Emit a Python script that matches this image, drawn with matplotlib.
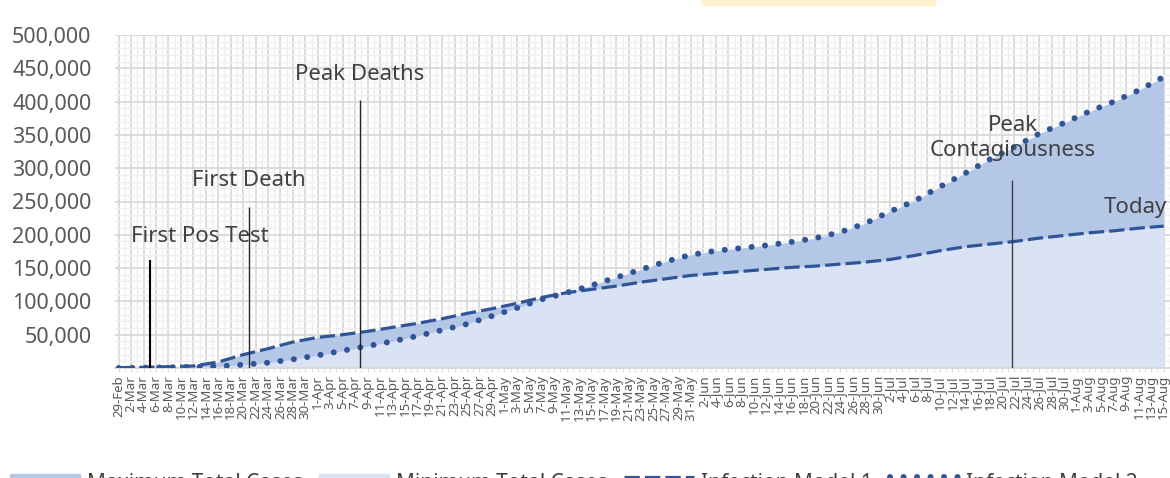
import matplotlib
matplotlib.use("Agg")
import matplotlib.pyplot as plt
import matplotlib.patches as mpatches
from matplotlib.lines import Line2D
from matplotlib.legend_handler import HandlerLine2D
from matplotlib.ticker import MultipleLocator, FuncFormatter
import numpy as np
import pandas as pd

# --- data (days counted from 29-Feb-2020) ---
start_date = "2020-02-29"
sample_days = [0, 4, 8, 12, 16, 20, 24, 28, 32, 36, 40, 44, 48, 52, 56, 60, 64, 68,
               72, 76, 80, 84, 88, 92, 96, 100, 104, 108, 112, 116, 120, 124, 128,
               132, 136, 140, 144, 148, 152, 156, 160, 164, 168]
model_1 = [500, 1000, 2000, 3000, 9000, 20000, 29000, 39000, 46000, 50000, 55000,
           61000, 67000, 74000, 82000, 89000, 97000, 106000, 113000, 118000, 123000,
           129000, 134000, 139000, 142000, 145000, 148000, 151000, 153000, 156000,
           159000, 163000, 169000, 176000, 182000, 186000, 190000, 195000, 199000,
           203000, 206000, 210000, 213000]
model_2 = [0, 500, 1000, 1500, 2500, 5000, 8000, 13000, 19000, 26000, 33000, 40000,
           48000, 57000, 66000, 78000, 90000, 103000, 113000, 124000, 136000, 148000,
           160000, 170000, 176000, 180000, 184000, 189000, 195000, 204000, 217000,
           235000, 251000, 272000, 292000, 313000, 332000, 352000, 368000, 385000,
           400000, 417000, 437000]

event_labels = ["First Pos Test", "First Death", "Peak Deaths", "Peak\nContagiousness"]
event_days = [5.1, 21.0, 38.8, 143.6]
event_tops = [162000, 242000, 402000, 282000]

n_days = 170
series_names = ["Maximum Total Cases", "Minimum Total Cases",
                "Infection Model 1", "Infection Model 2"]

# --- layout ---
W, H = 1170, 478
x_left_px, x_right_px = 115, 1176
y_top_px, y_bot_px = 35, 368
xmin = -0.6
xmax = xmin + (x_right_px - x_left_px) / 6.22

c_max = "#b4c7e7"
c_min = "#dae3f3"
c_line = "#2f5597"
c_text = "#595959"
c_grid = "#d9d9d9"

plt.rcParams["font.family"] = ["Noto Sans", "DejaVu Sans"]


class RaisedLine(HandlerLine2D):
    # legend line sits a little higher than the text centre (it is cut off otherwise)
    def create_artists(self, legend, orig_handle, xdescent, ydescent, width, height,
                       fontsize, trans):
        arts = super().create_artists(legend, orig_handle, xdescent, ydescent,
                                      width, height, fontsize, trans)
        for a in arts:
            a.set_ydata(np.asarray(a.get_ydata()) + 3.3)
        return arts


fig = plt.figure(figsize=(W / 100, H / 100), dpi=100)
ax = fig.add_axes([x_left_px / W, 1 - y_bot_px / H,
                   (x_right_px - x_left_px) / W, (y_bot_px - y_top_px) / H])

d = np.array(sample_days)
m1 = np.array(model_1)
m2 = np.array(model_2)
upper = np.maximum(m1, m2)
lower = np.minimum(m1, m2)

ax.fill_between(d, 0, upper, color=c_max, lw=0, zorder=2)
ax.fill_between(d, 0, lower, color=c_min, lw=0, zorder=2)
ax.plot(d, m1, color=c_line, lw=2.3, dashes=(4.8, 1.6), dash_capstyle="butt", zorder=4)
ax.plot(d, m2, color=c_line, lw=4.3, dashes=(0.01, 2.25), dash_capstyle="round", zorder=4)

# event markers
line_w = [1.5, 1.0, 1.0, 1.0]
line_c = ["#000000", "#262626", "#262626", "#404040"]
text_pos = [(200, 236), (249, 181), (360, 74), (1013, 138)]
for lab, ev, top, lw, lc, (tx, ty) in zip(event_labels, event_days, event_tops,
                                          line_w, line_c, text_pos):
    ax.vlines(ev, 0, top, color=lc, lw=lw, zorder=5)
    fig.text(tx / W, 1 - ty / H, lab, ha="center", va="center", fontsize=16,
             color="#404040", linespacing=1.3)
fig.text(1135 / W, 1 - 208 / H, "Today", ha="center", va="center", fontsize=16,
         color="#404040")

# axes styling
ax.set_xlim(xmin, xmax)
ax.set_ylim(0, 500000)
ax.yaxis.set_major_locator(MultipleLocator(50000))
ax.yaxis.set_minor_locator(MultipleLocator(10000))
ax.yaxis.set_major_formatter(FuncFormatter(lambda v, p: "" if v == 0 else f"{int(v):,}"))

dates = pd.date_range(start_date, periods=n_days, freq="D")
tick_days = list(range(0, n_days, 2))
tick_labels = [f"{dates[i].day}-{dates[i].strftime('%b')}" for i in tick_days]
ax.set_xticks(tick_days)
ax.set_xticklabels(tick_labels, rotation=90, fontsize=9.5, color=c_text)
ax.xaxis.set_minor_locator(MultipleLocator(1))

ax.grid(True, which="major", color=c_grid, lw=1.3, zorder=0)
ax.grid(True, which="minor", color="#efefef", lw=1.0, zorder=0)
ax.set_axisbelow(True)
ax.tick_params(axis="y", length=0, labelsize=15.5, labelcolor=c_text, pad=17)
ax.tick_params(axis="x", which="major", length=3, color=c_grid, pad=2)
ax.tick_params(axis="x", which="minor", length=3, color=c_grid)
ax.tick_params(axis="y", which="minor", length=0)
for s in ["top", "right", "left"]:
    ax.spines[s].set_visible(False)
ax.spines["bottom"].set_color(c_grid)
ax.spines["bottom"].set_linewidth(1.3)

# legend (cut off at the bottom like the original)
l1 = Line2D([], [], color=c_line, lw=2.3, dashes=(4.8, 1.6))
l2 = Line2D([], [], color=c_line, lw=4.3, dashes=(0.01, 2.25), dash_capstyle="round")
handles = [mpatches.Patch(color=c_max), mpatches.Patch(color=c_min), l1, l2]
fig.legend(handles, series_names, loc="upper left", ncol=4, frameon=False,
           bbox_to_anchor=(10 / W, 1 - 473 / H), fontsize=15, labelcolor="#404040",
           handlelength=3.35, handletextpad=0.34, columnspacing=0.8, borderpad=0,
           borderaxespad=0, handler_map={l1: RaisedLine(), l2: RaisedLine()})

# title box peeking at the top
fig.patches.append(mpatches.Rectangle((702 / W, 1 - 5 / H), 233 / W, 6 / H,
                                      transform=fig.transFigure, color="#fff2cc"))

fig.savefig("out.png", dpi=100)
